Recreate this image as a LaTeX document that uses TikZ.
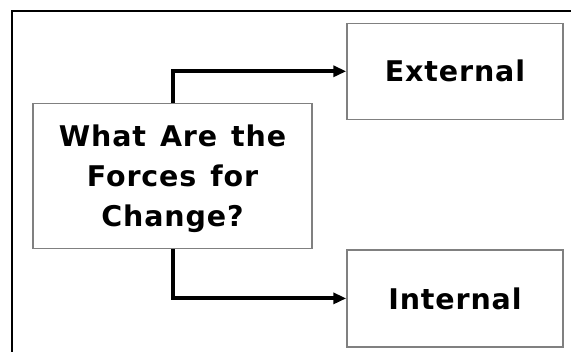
\documentclass[tikz,border=0pt]{standalone}
\usepackage{fontspec}
\setmainfont{DejaVu Sans}[LetterSpace=3, WordSpace=1.3]
\usetikzlibrary{arrows.meta}

\begin{document}
\begin{tikzpicture}[x=1pt, y=-1pt, font=\fontsize{28.5}{40}\selectfont\bfseries, box/.style={draw=black!50, line width=1.5pt, fill=white, align=center, inner sep=0pt}, link/.style={line width=4pt, -{Triangle[length=13pt, width=11pt]}}]
\useasboundingbox (0,0) rectangle (571,352);
\clip (0,0) rectangle (571,352);
\draw[line width=2pt] (12,11) rectangle (580,360);
\node[box, minimum width=279pt, minimum height=145pt, text depth=0pt] (forces) at (172.5,175.8) {What Are the\\Forces for\\Change?};
\node[box, minimum width=216pt, minimum height=96pt] (external) at (455,71.3) {External};
\node[box, minimum width=216pt, minimum height=97pt] (internal) at (455,298.4) {Internal};
\draw[link] (forces.north) |- (external.west);
\draw[link] (forces.south) |- (internal.west);
\end{tikzpicture}
\end{document}
